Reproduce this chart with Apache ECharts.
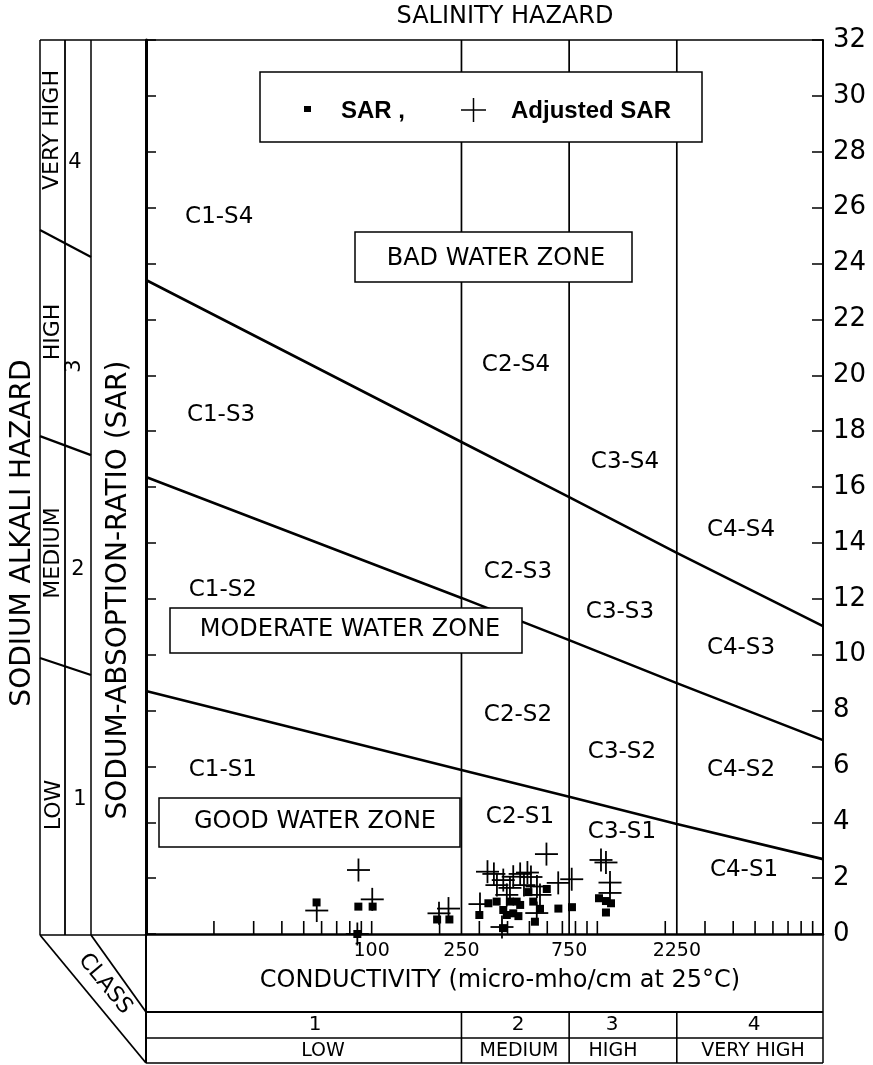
<!DOCTYPE html>
<html><head><meta charset="utf-8">
<script src="https://cdn.jsdelivr.net/npm/echarts@6/dist/echarts.min.js"></script>
<style>html,body{margin:0;padding:0;background:#fff}#c{width:873px;height:1065px}</style>
</head><body><div id="c"></div>
<script>
// ---------------- data ----------------
const classBoundsEC = [250, 750, 2250];
const xTickLabels = [100, 250, 750, 2250];
const xMinorTicks = [20,30,40,50,60,70,80,90,100,200,300,400,500,600,700,800,900,1000,2000,3000,4000,5000,6000,7000,8000,9000];

// sodium hazard boundary lines [EC, SAR]
const boundaryS1S2 = [[10, 8.70], [250, 5.87], [750, 4.91], [2250, 3.94], [10000, 2.68]];
const boundaryS2S3 = [[10, 16.36], [250, 12.03], [750, 10.52], [2250, 8.98], [10000, 6.94]];
const boundaryS3S4 = [[10, 23.41], [250, 17.61], [750, 15.64], [2250, 13.64], [10000, 11.02]];

// left (perspective) panel boundary SAR values
const panelOuterSAR = [9.88, 17.82, 25.20];
const panelInnerSAR = [9.27, 17.14, 24.23];

// SAR samples [EC, SAR]
const sarPoints = [
  [57, 1.13], [87.3, 0.98], [101, 0.98], [86.4, 0.0], [195, 0.52], [221, 0.52],
  [300, 0.68], [329, 1.10], [358, 1.16], [383, 0.86], [397, 0.68], [424, 0.74],
  [447, 0.64], [439, 1.16], [455, 1.04], [495, 1.50], [520, 1.16], [557, 0.90],
  [529, 0.44], [597, 1.61], [672, 0.91], [772, 0.96], [382, 0.21], [1017, 1.28],
  [1092, 1.18], [1150, 1.10], [1092, 0.77], [410, 1.16]
];
// Adjusted SAR samples [EC, adjSAR]
const adjSarPoints = [
  [87.4, 2.29], [57.1, 0.84], [100.6, 1.24], [86.4, 0.0], [198.8, 0.74], [219, 0.91],
  [302, 1.07], [326, 2.23], [348, 2.15], [383, 1.93], [424, 2.05], [455, 2.15],
  [490, 2.20], [508, 2.04], [595, 2.86], [410, 1.65], [397, 1.40], [540, 1.70],
  [557, 1.40], [671, 1.83], [770, 1.96], [539, 0.75], [378, 0.25], [1038, 2.65],
  [1092, 2.56], [1138, 1.84], [1138, 1.47], [359, 1.75], [473, 1.75]
];

// zone labels and their [EC, SAR] centres
const zoneNames = ['C1-S4','C1-S3','C1-S2','C1-S1','C2-S4','C2-S3','C2-S2','C2-S1',
                   'C3-S4','C3-S3','C3-S2','C3-S1','C4-S4','C4-S3','C4-S2','C4-S1'];
const zonePos = [[21.1, 25.66],[21.5, 18.58],[21.9, 12.31],[21.9, 5.87],
                 [436, 20.37],[445, 12.96],[445, 7.84],[454, 4.19],
                 [1326, 16.89],[1260, 11.52],[1286, 6.51],[1286, 3.65],
                 [4331, 14.46],[4331, 10.24],[4331, 5.87],[4466, 2.29]];

const salinityClass = ['1','2','3','4'];
const salinityNames = ['LOW','MEDIUM','HIGH','VERY HIGH'];
const alkaliNames = ['VERY HIGH','HIGH','MEDIUM','LOW'];
const alkaliClass = ['4','3','2','1'];

// ---------------- layout ----------------
const GL = 146, GR = 823, GT = 40, GB = 934;
const FONT = 'DejaVu Sans';
const PA = 40, PB = 65, PC = 91;   // left panel column lines

const chart = echarts.init(document.getElementById('c'));

function txt(text, x, y, size, opts) {
  opts = opts || {};
  return {
    type: 'text', x: x, y: y, rotation: opts.rot || 0, z: 120,
    style: {
      text: text, fill: '#000', fontSize: size, fontFamily: opts.family || FONT,
      fontWeight: opts.weight || 'normal',
      align: opts.align || 'center', verticalAlign: 'middle',
      textAlign: opts.align || 'center', textVerticalAlign: 'middle'
    }
  };
}
function ln(x1, y1, x2, y2, w) {
  return { type: 'line', z: 110, shape: {x1, y1, x2, y2}, style: {stroke: '#000', lineWidth: w || 1.5} };
}
function box(x, y, w, h) {
  return { type: 'rect', z: 105, shape: {x, y, width: w, height: h}, style: {fill: '#fff', stroke: '#000', lineWidth: 1.5} };
}

const R90 = Math.PI / 2;
const graphics = [
  // frame pieces
  ln(PA, GT, GR, GT, 1.5),
  ln(PA, GT, PA, GB + 1, 1.5), ln(PB, GT, PB, GB + 1, 1.8), ln(PC, GT, PC, GB + 1, 1.5),
  ln(PA, GB + 1, GL, GB + 1, 1.5),
  ln(PA, GB + 1, GL, 1063, 1.8), ln(PC, GB + 1, GL, 1012, 1.8),
  ln(GL, GB, GL, 1063, 2), ln(GR, GB, GR, 1063, 1.5),
  ln(GL, 1012, GR, 1012, 2), ln(GL, 1038, GR, 1038, 1.5), ln(GL, 1063, GR, 1063, 1.5),
  // titles
  txt('SALINITY HAZARD', 505, 17, 24),
  txt('SODIUM ALKALI HAZARD', 23, 533, 28, {rot: R90}),
  txt('SODUM-ABSOPTION-RATIO (SAR)', 119, 590, 28, {rot: R90}),
  txt(alkaliNames[0], 52, 130, 22, {rot: R90}),
  txt(alkaliNames[1], 53, 332, 22, {rot: R90}),
  txt(alkaliNames[2], 53, 553, 22, {rot: R90}),
  txt(alkaliNames[3], 54, 805, 22, {rot: R90}),
  txt(alkaliClass[0], 75, 163, 21),
  txt(alkaliClass[1], 75, 366, 21, {rot: R90}),
  txt(alkaliClass[2], 78, 570, 21),
  txt(alkaliClass[3], 80, 800, 21),
  txt('CLASS', 105, 984, 22, {rot: -0.88}),
  txt('CONDUCTIVITY (micro-mho/cm at 25°C)', 500, 981, 24),
  txt(salinityClass[0], 315, 1025, 20), txt(salinityClass[1], 518, 1025, 20),
  txt(salinityClass[2], 612, 1025, 20), txt(salinityClass[3], 754, 1025, 20),
  txt(salinityNames[0], 323, 1051, 19), txt(salinityNames[1], 519, 1051, 19),
  txt(salinityNames[2], 613, 1051, 19), txt(salinityNames[3], 753, 1051, 19),
  // legend box
  box(260, 72, 442, 70),
  { type: 'rect', z: 115, shape: {x: 304, y: 106, width: 7, height: 6}, style: {fill: '#000'} },
  txt('SAR ,', 341, 111, 24, {align: 'left', weight: 'bold', family: 'Liberation Sans'}),
  ln(461, 110, 486, 110, 1.5), ln(473.5, 98, 473.5, 122, 1.5),
  txt('Adjusted SAR', 511, 111, 24, {align: 'left', weight: 'bold', family: 'Liberation Sans'}),
  // zone boxes
  box(355, 232, 277, 50), txt('BAD WATER ZONE', 496, 259, 24),
  box(170, 608, 352, 45), txt('MODERATE WATER ZONE', 350, 630, 24),
  box(159, 798, 301, 49), txt('GOOD WATER ZONE', 315, 822, 24)
];

function lineSeries(data, w) {
  return { type: 'line', data: data, symbol: 'none', silent: true, z: 3,
           lineStyle: {color: '#000', width: w} };
}

const series = [
  lineSeries(boundaryS1S2, 2.6),
  lineSeries(boundaryS2S3, 2.6),
  lineSeries(boundaryS3S4, 2.6),
];
classBoundsEC.forEach(function (v) {
  series.push(lineSeries([[v, 0], [v, 32]], 1.7));
});

// x-axis minor ticks
series.push({
  type: 'custom', silent: true, z: 4, data: xMinorTicks.map(v => [v, 0]),
  renderItem: function (p, api) {
    const c = api.coord([api.value(0), 0]);
    return { type: 'line', shape: {x1: c[0], y1: c[1], x2: c[0], y2: c[1] - 13},
             style: {stroke: '#000', lineWidth: 1.6} };
  }
});
// x-axis labels
series.push({
  type: 'custom', silent: true, z: 4, data: xTickLabels.map(v => [v, 0]),
  renderItem: function (p, api) {
    const v = api.value(0);
    const c = api.coord([v, 0]);
    return { type: 'text', x: c[0], y: c[1] + 17,
             style: {text: String(v), fontSize: 19, fontFamily: FONT, fill: '#000',
                     align: 'center', verticalAlign: 'middle'} };
  }
});
// salinity class dividers in table
series.push({
  type: 'custom', silent: true, z: 4, data: classBoundsEC.map(v => [v, 0]),
  renderItem: function (p, api) {
    const c = api.coord([api.value(0), 0]);
    return { type: 'line', shape: {x1: c[0], y1: 1012, x2: c[0], y2: 1063},
             style: {stroke: '#000', lineWidth: 1.6} };
  }
});
// left panel perspective boundary segments
series.push({
  type: 'custom', silent: true, z: 4,
  data: panelOuterSAR.map((o, i) => [10, o, panelInnerSAR[i]]),
  encode: {x: 0, y: 1},
  renderItem: function (p, api) {
    const yo = api.coord([10, api.value(1)])[1];
    const yi = api.coord([10, api.value(2)])[1];
    return { type: 'line', shape: {x1: PA, y1: yo, x2: PC, y2: yi},
             style: {stroke: '#000', lineWidth: 2.2} };
  }
});
// zone labels
series.push({
  type: 'custom', silent: true, z: 4, data: zonePos,
  renderItem: function (p, api) {
    const c = api.coord([api.value(0), api.value(1)]);
    return { type: 'text', x: c[0], y: c[1],
             style: {text: zoneNames[p.dataIndex], fontSize: 23, fontFamily: FONT, fill: '#000',
                     align: 'center', verticalAlign: 'middle'} };
  }
});
// SAR squares
series.push({
  type: 'scatter', name: 'SAR', data: sarPoints, symbol: 'rect', symbolSize: [8, 8], z: 6,
  itemStyle: {color: '#000', opacity: 1}, silent: true
});
// Adjusted SAR plus signs
series.push({
  type: 'custom', name: 'Adjusted SAR', silent: true, z: 6, data: adjSarPoints,
  renderItem: function (p, api) {
    const c = api.coord([api.value(0), api.value(1)]);
    const h = 11.5;
    return { type: 'group', children: [
      { type: 'line', shape: {x1: c[0] - h, y1: c[1], x2: c[0] + h, y2: c[1]}, style: {stroke: '#000', lineWidth: 1.8} },
      { type: 'line', shape: {x1: c[0], y1: c[1] - h, x2: c[0], y2: c[1] + h}, style: {stroke: '#000', lineWidth: 1.8} }
    ]};
  }
});

chart.setOption({
  backgroundColor: '#fff',
  animation: false,
  grid: {left: GL, right: 873 - GR, top: GT, bottom: 1065 - GB},
  xAxis: {
    type: 'log', logBase: 10, min: 10, max: 10000,
    axisLine: {show: true, lineStyle: {color: '#000', width: 2.5}},
    axisTick: {show: false}, axisLabel: {show: false}, splitLine: {show: false}
  },
  yAxis: [
    { type: 'value', min: 0, max: 32, interval: 2, position: 'right',
      axisLine: {show: true, lineStyle: {color: '#000', width: 2}},
      axisTick: {show: true, inside: true, length: 11, lineStyle: {color: '#000', width: 1.5}},
      axisLabel: {fontSize: 26, fontFamily: FONT, color: '#000', margin: 10},
      splitLine: {show: false} },
    { type: 'value', min: 0, max: 32, interval: 2, position: 'left',
      axisLine: {show: true, lineStyle: {color: '#000', width: 3}},
      axisTick: {show: true, inside: true, length: 10, lineStyle: {color: '#000', width: 1.5}},
      axisLabel: {show: false}, splitLine: {show: false} }
  ],
  graphic: graphics,
  series: series
});
</script></body></html>
